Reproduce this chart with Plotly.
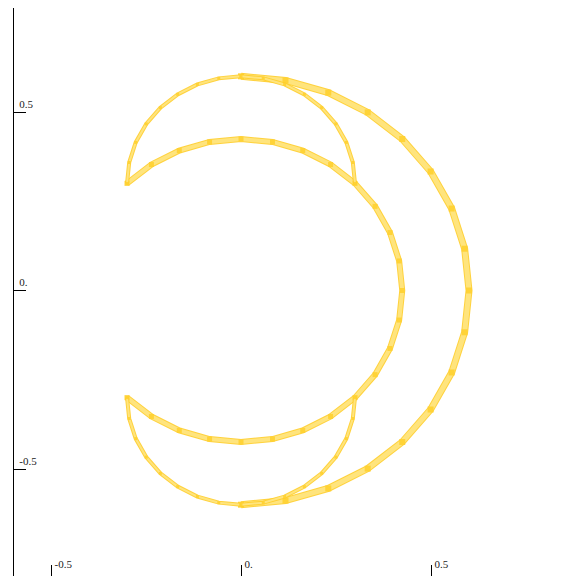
import numpy as np
import plotly.graph_objects as go

# Arc definitions: centre x, centre y, radius, start angle, end angle (deg), segments, stroke width
arc_names   = ["outer", "inner", "top_left", "top_right", "bottom_left", "bottom_right"]
arc_cx      = [0.0, 0.0, 0.0, 0.0, 0.0, 0.0]
arc_cy      = [0.0, 0.0, 0.3, 0.3, -0.3, -0.3]
arc_r       = [0.6, 0.4243, 0.3, 0.3, 0.3, 0.3]
arc_start   = [90.0, 135.0, 180.0, 90.0, 180.0, -90.0]
arc_end     = [-90.0, -135.0, 90.0, 0.0, 270.0, 0.0]
arc_segs    = [16, 24, 8, 8, 8, 8]
arc_width   = [5, 4, 2, 2, 2, 2]

x_tickvals = [-0.5, 0.0, 0.5]
x_ticktext = ["-0.5", "0.", "0.5"]
y_tickvals = [-0.5, 0.0, 0.5]
y_ticktext = ["-0.5", "0.", "0.5"]

fig = go.Figure()
for name, cx, cy, r, a0, a1, n, w in zip(arc_names, arc_cx, arc_cy, arc_r,
                                         arc_start, arc_end, arc_segs, arc_width):
    t = np.deg2rad(np.linspace(a0, a1, n + 1))
    xs = cx + r * np.cos(t)
    ys = cy + r * np.sin(t)
    fig.add_trace(go.Scatter(x=xs, y=ys, mode="lines", name=name,
                             line=dict(color="rgba(255,205,40,0.9)", width=w + 2),
                             hoverinfo="skip", showlegend=False))
    fig.add_trace(go.Scatter(x=xs, y=ys, mode="lines+markers", name=name,
                             line=dict(color="rgba(255,228,125,1)", width=w),
                             marker=dict(symbol="square", size=w + 1,
                                         color="rgba(255,208,48,0.9)"),
                             showlegend=False))

# page body has an 8px offset; ranges chosen so the reference pixel positions match
fig.update_layout(
    width=576, height=576,
    margin=dict(l=0, r=0, t=0, b=0),
    paper_bgcolor="white", plot_bgcolor="white",
    xaxis=dict(range=[-0.6132, 0.9026], showgrid=False, zeroline=False,
               showline=False, anchor="free", position=8 / 576,
               tickmode="array", tickvals=x_tickvals, ticktext=x_ticktext,
               ticks="inside", ticklen=11, tickcolor="black", tickwidth=1,
               ticklabelposition="inside right", ticklabelshift=3,
               tickfont=dict(family="Liberation Serif", size=11, color="#222")),
    yaxis=dict(range=[-0.8221, 0.7913], showgrid=False, zeroline=False,
               showline=True, linecolor="black", linewidth=1,
               anchor="free", position=5 / 576,
               tickmode="array", tickvals=y_tickvals, ticktext=y_ticktext,
               ticks="inside", ticklen=12, tickcolor="black", tickwidth=1,
               ticklabelposition="inside top", ticklabelstandoff=4,
               tickfont=dict(family="Liberation Serif", size=11, color="#222")),
)

fig.write_html("out.html")
